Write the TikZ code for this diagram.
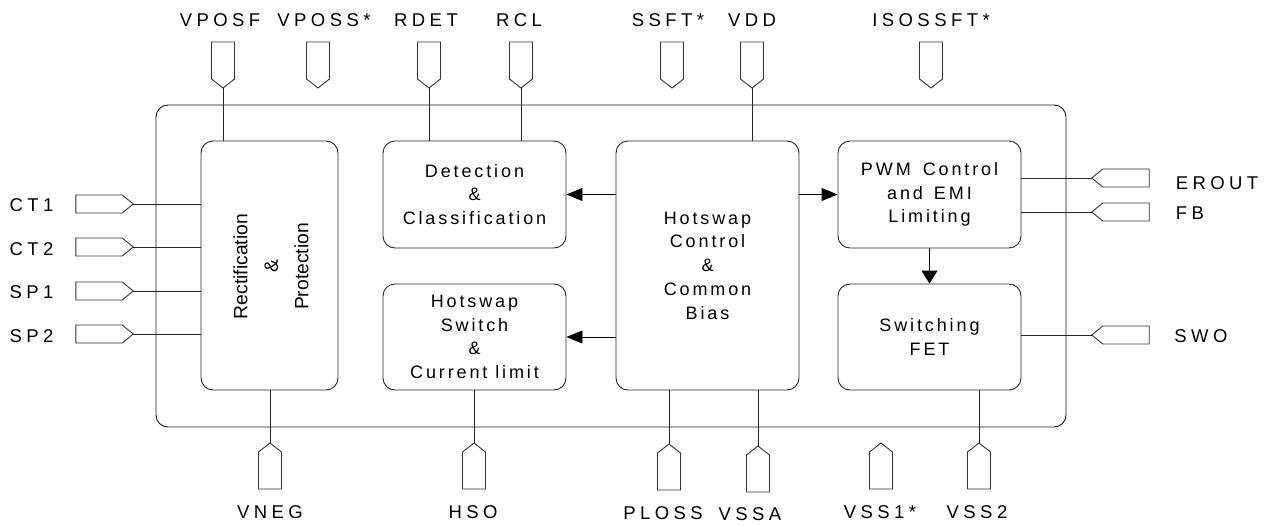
\documentclass[tikz,border=0pt]{standalone}
\usepackage{fontspec}
\setmainfont{Liberation Sans}
\newfontfamily\wide[LetterSpace=24]{Liberation Sans}
\newfontfamily\inner[LetterSpace=16]{Liberation Sans}
\usetikzlibrary{shapes.symbols,arrows.meta}
\tikzset{
  x=1pt,y=-1pt,
  wire/.style={line width=0.9pt,draw=black!85},
  flow/.style={line width=0.9pt,draw=black,-{Triangle[length=16pt,width=13pt]}},
  flowdown/.style={line width=0.9pt,draw=black,-{Triangle[length=13pt,width=16pt]}},
  blockbox/.style={draw=black!85,line width=0.9pt,rounded corners=12pt,inner sep=0pt,align=center,
     font=\fontsize{18}{23.7}\inner},
  pinbase/.style={signal,draw=black!80,line width=0.9pt,fill=none,inner sep=0pt,outer sep=0pt},
  pinh/.style={pinbase,minimum width=57.5pt,minimum height=18pt,signal pointer angle=78},
  pinv/.style={pinbase,minimum height=37pt,minimum width=23pt,signal pointer angle=104},
  plabel/.style={anchor=base,inner sep=0pt,font=\fontsize{18.5}{20}\wide},
}
\newcommand{\blockat}[7][]{\node[blockbox,minimum width=#5 pt-#3 pt,minimum height=#6 pt-#4 pt,#1] (#2) at ({(#3+#5)/2},{(#4+#6)/2}) {#7};}
\begin{document}
\begin{tikzpicture}
\useasboundingbox (0,0) rectangle (1272,527);
\node[draw=black!90,line width=0.9pt,rounded corners=12pt,minimum width=910pt,minimum height=322pt,inner sep=0pt] (chip) at (611,266) {};

\blockat{rect}{201}{141}{338}{390}{}
\node[rotate=90,inner sep=0pt,align=center,font=\fontsize{19.3}{30.5}\selectfont] (recttext) at (271,266.5) {Rectification\\\&\\Protection};
\blockat{det}{383}{141}{566}{248}{Detection\\\&\\Classification}
\blockat{hsw}{383}{284}{566}{390}{Hotswap\\Switch\\\&\\Current limit}
\blockat{hot}{616}{141}{799}{390}{Hotswap\\Control\\\&\\Common\\Bias}
\blockat{pwm}{838}{141}{1021}{248}{P\kern3pt W\kern3pt M\kern4pt\ Control\\and\kern3pt\ E\kern3pt M\kern3pt I\\Limiting}
\blockat{fet}{838}{284}{1021}{390}{Switching\\FET}

% top pins
\foreach \n/\x in {vposf/223,vposs/318,rdet/429,rcl/521,ssft/672,vdd/752,isos/931}
  \node[pinv,signal to=south] (\n) at (\x,60.5) {};
% bottom pins
\foreach \n/\x/\y in {vneg/270/470.5,hso/474/470.5,ploss/669/471.5,vssa/758/473.5,vssone/881/470.5,vsstwo/979/470.5}
  \node[pinv,signal to=north] (\n) at (\x,\y) {};
% left pins
\foreach \n/\y in {ctone/204,cttwo/247,spone/291,sptwo/334}
  \node[pinh,signal to=east] (\n) at (99,\y) {};
% right pins
\foreach \n/\y in {erout/178,fb/212,swo/335}
  \node[pinh,signal to=west] (\n) at (1126,\y) {};

\draw[wire] (vposf.south) -- (rect.north -| vposf.south);
\draw[wire] (rdet.south) -- (det.north -| rdet.south);
\draw[wire] (rcl.south) -- (det.north -| rcl.south);
\draw[wire] (vdd.south) -- (hot.north -| vdd.south);
\draw[wire] (vneg.north) -- (rect.south -| vneg.north);
\draw[wire] (hso.north) -- (hsw.south -| hso.north);
\draw[wire] (ploss.north) -- (hot.south -| ploss.north);
\draw[wire] (vssa.north) -- (hot.south -| vssa.north);
\draw[wire] (vsstwo.north) -- (fet.south -| vsstwo.north);
\foreach \n in {ctone,cttwo,spone,sptwo}
  \draw[wire] (\n.east) -- (rect.west |- \n.east);
\foreach \n in {erout,fb}
  \draw[wire] (\n.west) -- (pwm.east |- \n.west);
\draw[wire] (swo.west) -- (fet.east |- swo.west);

\draw[flow] (hot.west |- det.east) -- (det.east);
\draw[flow] (hot.west |- hsw.east) -- (hsw.east);
\draw[flow] (hot.east |- pwm.west) -- (pwm.west);
\draw[flowdown] (pwm.south) -- (fet.north);

\foreach \n/\t/\x/\y in {lvposf/VPOSF/220/26.5,lvposs/VPOSS*/324/26.5,lrdet/RDET/426/26.5,lrcl/RCL/519/26.5,lssft/SSFT*/668/26.5,lvdd/VDD/752/26.5,lisos/ISOSSFT*/931/26.5,
  lvneg/VNEG/270/518,lhso/HSO/473/518,lploss/PLOSS/663/519.5,lvssa/VSSA/750/520,lvss/VSS1*/880/518,lvsst/VSS2/977/518,
  lct/CT1/31.5/211,lctt/CT2/31.5/255,lsp/SP1/31.5/298,lspt/SP2/31.5/342,lerout/EROUT/1217/189,lfb/FB/1190/219,lswo/SWO/1201/342}
  \node[plabel] (\n) at (\x,\y) {\t};
\end{tikzpicture}
\end{document}
